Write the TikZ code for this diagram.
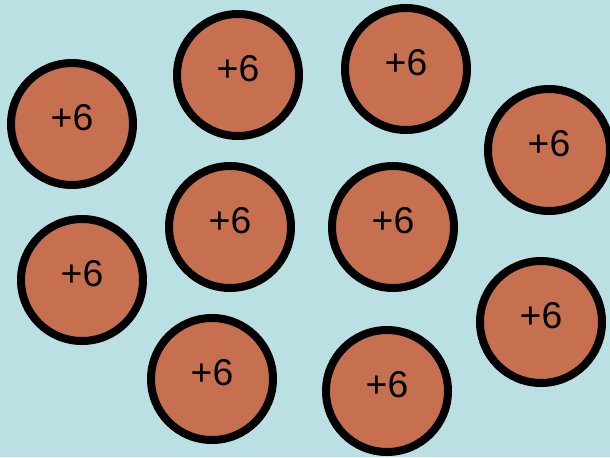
\documentclass[tikz,border=0pt]{standalone}
\usepackage{fontspec}
\setmainfont{Liberation Sans}
\definecolor{ionBg}{HTML}{BAE0E4}
\definecolor{ionFill}{HTML}{C7704F}
\usetikzlibrary{positioning}

\begin{document}
\begin{tikzpicture}[x=0.75pt, y=-0.75pt,
  ion/.style={circle, draw=black, line width=6pt, fill=ionFill, inner sep=0pt,
    minimum size=91.5pt, text depth=10pt, font=\fontsize{28}{28}\selectfont}]
% background
\fill[ionBg] (0,0) rectangle (610,457);
\useasboundingbox (0,0) rectangle (610,457);
% ions
\node[ion] (c1) at (72,124) {+6};
\node[ion] (c2) at (238,75) {+6};
\node[ion] (c3) at (406,69) {+6};
\node[ion] (c4) at (549,150) {+6};
\node[ion] (c5) at (230,227) {+6};
\node[ion] (c6) at (393,227) {+6};
\node[ion] (c7) at (82,280) {+6};
\node[ion] (c8) at (541,322) {+6};
\node[ion] (c9) at (212,379) {+6};
\node[ion] (c10) at (387,391) {+6};
\end{tikzpicture}
\end{document}
